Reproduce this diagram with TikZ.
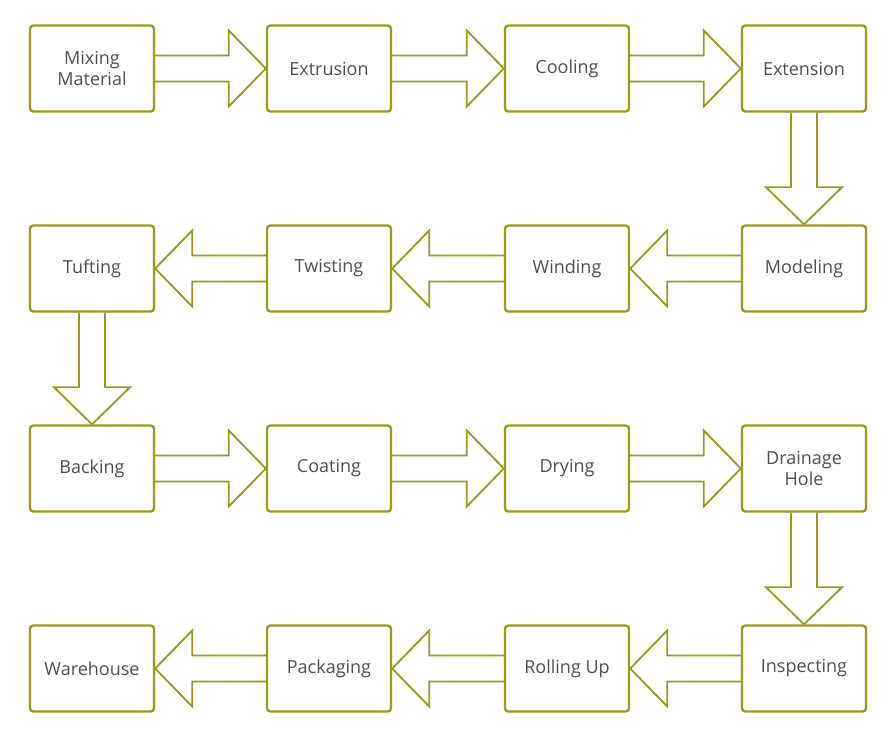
\documentclass[tikz,border=0pt]{standalone}
\usepackage{fontspec}
\setmainfont{Open Sans}
\usetikzlibrary{calc}
\definecolor{flowolive}{HTML}{9A9A1E}
\definecolor{flowgrey}{HTML}{505050}
\tikzset{
  stepbox/.style={draw=flowolive, line width=1.8pt, rounded corners=2.5pt, fill=white,
    minimum width=93pt, minimum height=64.5pt, inner sep=2pt, align=center,
    font=\fontsize{13.5}{15.5}\selectfont, text=flowgrey},
  blockarrow/.style={draw=flowolive, line width=1.4pt, line join=miter}
}
% block arrows between two boxes
\newcommand{\rightblock}[2]{%
  \draw[blockarrow] ($(#1.east)+(0,-13)$) -- ($(#2.west)+(-37,-13)$) -- ($(#2.west)+(-37,-38)$)
    -- (#2.west) -- ($(#2.west)+(-37,38)$) -- ($(#2.west)+(-37,13)$) -- ($(#1.east)+(0,13)$);}
\newcommand{\leftblock}[2]{%
  \draw[blockarrow] ($(#1.west)+(0,-13)$) -- ($(#2.east)+(37,-13)$) -- ($(#2.east)+(37,-38)$)
    -- (#2.east) -- ($(#2.east)+(37,38)$) -- ($(#2.east)+(37,13)$) -- ($(#1.west)+(0,13)$);}
\newcommand{\downblock}[2]{%
  \draw[blockarrow] ($(#1.south)+(-13,0)$) -- ($(#2.north)+(-13,-37)$) -- ($(#2.north)+(-38,-37)$)
    -- (#2.north) -- ($(#2.north)+(38,-37)$) -- ($(#2.north)+(13,-37)$) -- ($(#1.south)+(13,0)$);}

\begin{document}
\begin{tikzpicture}[x=0.75pt, y=-0.75pt]
\useasboundingbox (0,0) rectangle (893,734);

\foreach \name/\lbl/\cx/\cy in {
  mix/{Mixing\\Material}/92/68.5, extrude/Extrusion/329/68.5, cool/Cooling/567/68.5, extend/Extension/804/68.5,
  tuft/Tufting/92/268.5, twist/Twisting/329/268.5, wind/Winding/567/268.5, model/Modeling/804/268.5,
  back/Backing/92/468.5, coat/Coating/329/468.5, dry/Drying/567/468.5, drain/{Drainage\\Hole}/804/468.5,
  store/Warehouse/92/668.5, pack/Packaging/329/668.5, roll/Rolling Up/567/668.5, inspect/Inspecting/804/668.5}
{
  \node[stepbox] (\name) at (\cx,\cy) {\lbl};
}

\foreach \a/\b in {mix/extrude, extrude/cool, cool/extend, back/coat, coat/dry, dry/drain}
  \rightblock{\a}{\b};
\foreach \a/\b in {model/wind, wind/twist, twist/tuft, inspect/roll, roll/pack, pack/store}
  \leftblock{\a}{\b};
\foreach \a/\b in {extend/model, tuft/back, drain/inspect}
  \downblock{\a}{\b};
\end{tikzpicture}
\end{document}
